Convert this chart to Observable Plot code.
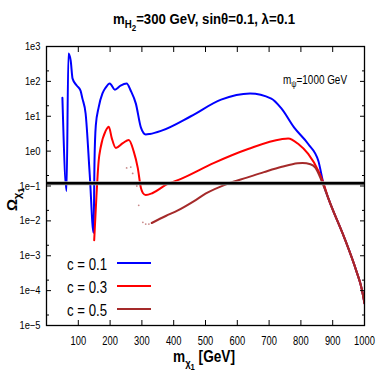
<!DOCTYPE html>
<html><head><meta charset="utf-8">
<script src="https://cdn.jsdelivr.net/npm/d3@7"></script>
<script src="https://cdn.jsdelivr.net/npm/@observablehq/plot@0.6"></script>
<style>html,body{margin:0;padding:0;background:#fff}svg{display:block}</style>
</head><body><div id="chart"></div>
<script>
// ---- data ----
const xTicks = [100, 200, 300, 400, 500, 600, 700, 800, 900, 1000];
const yTicks = [1e-5, 1e-4, 1e-3, 1e-2, 1e-1, 1e0, 1e1, 1e2, 1e3];
const yMinor = [2e-5, 2e-4, 2e-3, 2e-2, 2e-1, 2e0, 2e1, 2e2];
const omegaObs = 0.12;

const seriesNames = ["c = 0.1", "c = 0.3", "c = 0.5"];
const seriesColors = ["#0000ff", "#ff0000", "#a52a2a"];

const blueX = [50, 63, 69, 76, 82, 95, 107, 113, 123, 136, 148, 151, 155, 164, 176, 186, 199, 215, 233, 252, 265, 281, 297, 312, 325, 360, 454, 549, 640, 707, 738, 779, 823, 855, 871, 886, 896, 937, 975, 991, 1000];
const blueY = [34, 0.072, 630, 400, 120, 76, 54, 32, 12, 0.21, 0.0045, 0.52, 5.4, 18, 45, 66, 87, 58, 76, 87, 54, 23, 4.7, 3.0, 3.1, 3.8, 10, 30, 45, 32, 17, 4.7, 1.6, 0.52, 0.115, 0.045, 0.026, 0.0032, 3.5e-4, 1.15e-4, 4.3e-5];

const redX = [150, 157, 161, 164, 170, 186, 196, 205, 218, 240, 259, 274, 287, 297, 303, 312, 334, 375, 423, 527, 634, 738, 760, 792, 823, 855, 871, 886, 896, 937, 975, 991, 1000];
const redY = [0.0028, 0.05, 0.22, 0.52, 1.23, 3.8, 5.0, 2.4, 1.23, 1.7, 2.1, 1.0, 0.33, 0.087, 0.063, 0.055, 0.063, 0.107, 0.16, 0.46, 1.15, 2.2, 2.3, 1.6, 0.83, 0.27, 0.12, 0.045, 0.026, 0.0032, 3.5e-4, 1.15e-4, 4.3e-5];

const brownX = [331, 375, 413, 464, 500, 571, 630, 684, 740, 790, 805, 830, 846, 864, 874, 886, 896, 937, 975, 991, 1000];
const brownY = [0.0087, 0.0138, 0.020, 0.037, 0.06, 0.117, 0.174, 0.25, 0.355, 0.45, 0.46, 0.42, 0.33, 0.148, 0.087, 0.045, 0.026, 0.0032, 3.5e-4, 1.15e-4, 4.3e-5];

// scattered points of the c = 0.5 scan in the transition region
const brownDotX = [252, 265, 271, 284, 290, 303, 312, 322];
const brownDotY = [0.33, 0.35, 0.23, 0.1, 0.028, 0.0091, 0.0081, 0.0081];

// ---- build tables ----
const rows = (xs, ys) => xs.map((x, i) => ({x, y: ys[i]}));
const blue = rows(blueX, blueY), red = rows(redX, redY), brown = rows(brownX, brownY);
const brownDots = rows(brownDotX, brownDotY);

const FONT = '"Liberation Sans", Arial, Helvetica, sans-serif';
const fmt = d => "1e" + String(Math.round(Math.log10(d))).replace("-", "\u2212");
const none = () => "";

const plot = Plot.plot({
  width: 382, height: 382,
  marginLeft: 46, marginRight: 18, marginTop: 46, marginBottom: 57,
  style: {fontFamily: FONT, background: "white", color: "black", overflow: "visible"},
  x: {domain: [0, 1000]},
  y: {type: "log", domain: [1e-5, 1e3]},
  marks: [
    Plot.line(blue, {x: "x", y: "y", stroke: seriesColors[0], strokeWidth: 2, curve: "monotone-x", clip: true}),
    Plot.line(red, {x: "x", y: "y", stroke: seriesColors[1], strokeWidth: 2, curve: "monotone-x", clip: true}),
    Plot.dot(brownDots, {x: "x", y: "y", r: 0.9, fill: "#c98a8a", stroke: null}),
    Plot.line(brown, {x: "x", y: "y", stroke: seriesColors[2], strokeWidth: 2, curve: "monotone-x", clip: true}),
    Plot.ruleY([omegaObs], {stroke: "#aaaaaa", strokeWidth: 4.2}),
    Plot.ruleY([omegaObs], {stroke: "#000000", strokeWidth: 2.6}),
    Plot.frame({stroke: "black", strokeWidth: 1.3}),
    Plot.axisX(xTicks, {anchor: "bottom", tickSize: -5, tickPadding: 15, fontSize: 13, tickFormat: d => String(d), label: null}),
    Plot.axisX(xTicks, {anchor: "top", tickSize: -5, tickFormat: none, label: null}),
    Plot.axisY(yTicks, {anchor: "left", tickSize: -5, tickPadding: 11, fontSize: 11, tickFormat: fmt, label: null}),
    Plot.axisY(yTicks, {anchor: "right", tickSize: -5, tickFormat: none, label: null}),
    Plot.axisY(yMinor, {anchor: "left", tickSize: -3, tickFormat: none, label: null}),
    Plot.axisY(yMinor, {anchor: "right", tickSize: -3, tickFormat: none, label: null})
  ]
});
document.getElementById("chart").appendChild(plot);

const svg = d3.select(plot);
function squeeze(sel, k) {
  sel.each(function () {
    const L = this.getComputedTextLength();
    if (L > 0) { this.setAttribute("textLength", L * k); this.setAttribute("lengthAdjust", "spacingAndGlyphs"); }
  });
}
squeeze(svg.selectAll('g[aria-label="x-axis tick label"] text'), 0.72);
squeeze(svg.selectAll('g[aria-label="y-axis tick label"] text'), 0.85);

const g = svg.append("g").attr("font-family", FONT).attr("fill", "black").attr("text-anchor", "start");

// title
const t = g.append("text").attr("x", 204).attr("y", 24).attr("text-anchor", "middle")
  .attr("font-size", 15).attr("font-weight", "bold");
t.append("tspan").text("m");
t.append("tspan").attr("dy", 4).attr("font-size", 11).text("H");
t.append("tspan").attr("dy", 3).attr("font-size", 9).text("2");
t.append("tspan").attr("dy", -7).text("=300 GeV, sin\u03b8=0.1, \u03bb=0.1");
t.attr("textLength", 182).attr("lengthAdjust", "spacingAndGlyphs");

// annotation
const a = g.append("text").attr("x", 283).attr("y", 84).attr("font-size", 12).attr("text-anchor", "start");
a.append("tspan").text("m");
a.append("tspan").attr("dy", 3).attr("font-size", 9).text("\u03c8");
a.append("tspan").attr("dy", -3).text("=1000 GeV");
a.attr("textLength", 64).attr("lengthAdjust", "spacingAndGlyphs");

// x label
const xl = g.append("text").attr("x", 173).attr("y", 362).attr("font-size", 16).attr("font-weight", "bold").attr("text-anchor", "start");
xl.append("tspan").text("m");
xl.append("tspan").attr("dy", 5).attr("font-size", 11).text("\u03c7");
xl.append("tspan").attr("dy", 3).attr("font-size", 9).text("1");
xl.append("tspan").attr("dy", -8).text(" [GeV]");
xl.attr("textLength", 62).attr("lengthAdjust", "spacingAndGlyphs");

// y label
const yl = g.append("text").attr("transform", "translate(17,211) rotate(-90)").attr("font-size", 15).attr("font-weight", "bold").attr("text-anchor", "start");
yl.append("tspan").text("\u03a9");
yl.append("tspan").attr("dy", 4).attr("font-size", 11).text("\u03c7");
yl.append("tspan").attr("dy", 3).attr("font-size", 9).text("1");

// legend
seriesNames.forEach((name, i) => {
  const y = 270 + i * 23;
  g.append("text").attr("x", 67).attr("y", y).attr("font-size", 17).attr("text-anchor", "start").text(name)
    .attr("textLength", 40).attr("lengthAdjust", "spacingAndGlyphs");
  g.append("line").attr("x1", 117).attr("x2", 151).attr("y1", y - 7).attr("y2", y - 7)
    .attr("stroke", seriesColors[i]).attr("stroke-width", 2.2);
});
</script>
</body></html>
